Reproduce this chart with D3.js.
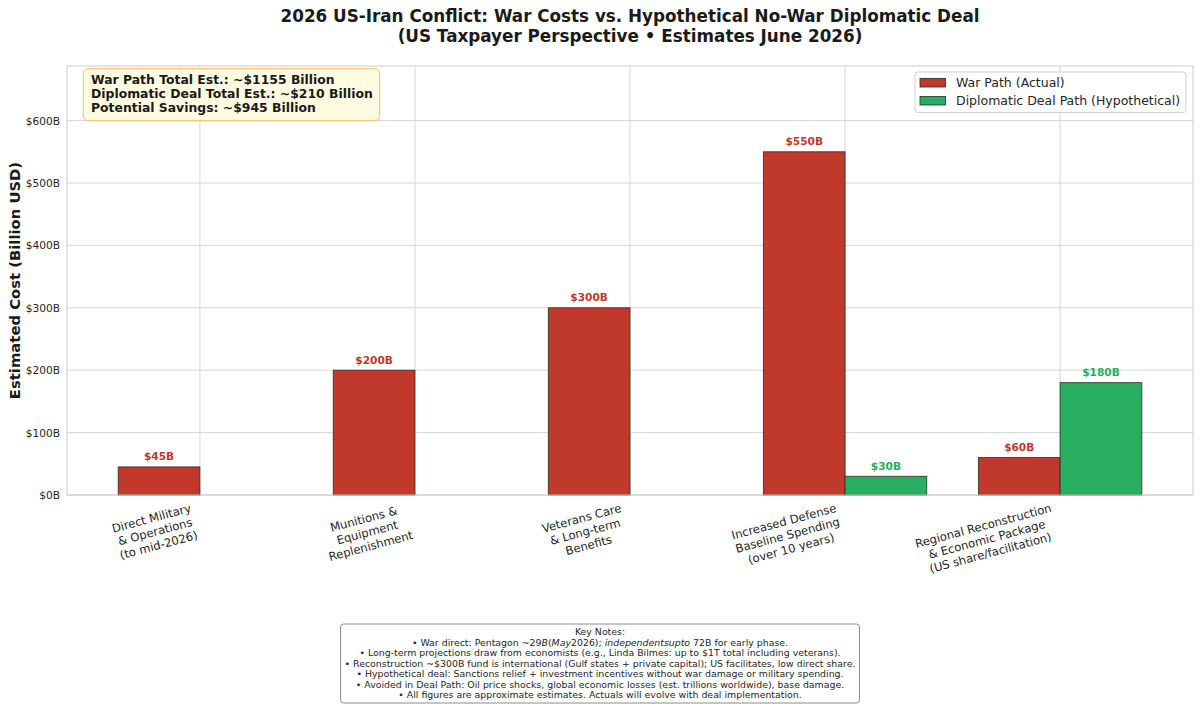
<!DOCTYPE html>
<html>
<head>
<meta charset="utf-8">
<script src="https://cdn.jsdelivr.net/npm/d3@7"></script>
<style>
body { margin: 0; background: #fff; }
svg { font-family: "DejaVu Sans", sans-serif; }
.grid line { stroke: #d6d6d6; stroke-width: 1; }
.frame { fill: none; stroke: #cccccc; stroke-width: 1; }
.tick-x { font-size: 11.6px; fill: #262626; }
.bar { stroke: #2b2b2b; stroke-width: 0.8; }
.value { font-size: 10.6px; font-weight: bold; }
</style>
</head>
<body>
<svg id="chart" width="1200" height="708"></svg>
<script>

// data
var categories = [
    "Direct Military\n& Operations\n(to mid-2026)",
    "Munitions &\nEquipment\nReplenishment",
    "Veterans Care\n& Long-term\nBenefits",
    "Increased Defense\nBaseline Spending\n(over 10 years)",
    "Regional Reconstruction\n& Economic Package\n(US share/facilitation)"
];
var warValues = [45, 200, 300, 550, 60];
var dealValues = [0, 0, 0, 30, 180];
var yTicks = [0, 100, 200, 300, 400, 500, 600];
var seriesNames = ["War Path (Actual)", "Diplomatic Deal Path (Hypothetical)"];
var titleLines = [
    "2026 US-Iran Conflict: War Costs vs. Hypothetical No-War Diplomatic Deal",
    "(US Taxpayer Perspective \u2022 Estimates June 2026)"
];
var summaryLines = [
    "War Path Total Est.: ~$1155 Billion",
    "Diplomatic Deal Total Est.: ~$210 Billion",
    "Potential Savings: ~$945 Billion"
];
// each note line is a list of [text, italic] pieces
var noteLines = [
    [["Key Notes:", false]],
    [["\u2022 War direct: Pentagon ~29", false], ["B", true], ["(", false], ["May", true], ["2026); ", false],
     ["independentsupto", true], [" 72B for early phase.", false]],
    [["\u2022 Long-term projections draw from economists (e.g., Linda Bilmes: up to $1T total including veterans).", false]],
    [["\u2022 Reconstruction ~$300B fund is international (Gulf states + private capital); US facilitates, low direct share.", false]],
    [["\u2022 Hypothetical deal: Sanctions relief + investment incentives without war damage or military spending.", false]],
    [["\u2022 Avoided in Deal Path: Oil price shocks, global economic losses (est. trillions worldwide), base damage.", false]],
    [["\u2022 All figures are approximate estimates. Actuals will evolve with deal implementation.", false]]
];

var warColor = "#c0392b",
    dealColor = "#27ae60",
    barWidth = 0.38;

var svg = d3.select("#chart");

var plotLeft = 67, plotRight = 1193, plotTop = 66, plotBottom = 495;

var x = d3.scaleLinear()
    .domain([-0.618, categories.length - 1 + 0.618])
    .range([plotLeft, plotRight]);

var y = d3.scaleLinear()
    .domain([0, d3.max(warValues) * 1.25])
    .range([plotBottom, plotTop]);

// grid
var grid = svg.append("g").attr("class", "grid");
grid.selectAll(".h").data(yTicks).enter().append("line")
    .attr("x1", plotLeft).attr("x2", plotRight)
    .attr("y1", function(d) { return y(d); })
    .attr("y2", function(d) { return y(d); });
grid.selectAll(".v").data(categories).enter().append("line")
    .attr("y1", plotTop).attr("y2", plotBottom)
    .attr("x1", function(d, i) { return x(i); })
    .attr("x2", function(d, i) { return x(i); });

// y axis labels
var yAxis = d3.axisLeft(y)
    .tickValues(yTicks)
    .tickSize(0)
    .tickPadding(7)
    .tickFormat(function(d) { return "$" + d + "B"; });
var gy = svg.append("g")
    .attr("transform", "translate(" + plotLeft + ",0)")
    .call(yAxis);
gy.select(".domain").remove();
gy.selectAll("text")
    .style("font-family", "DejaVu Sans").style("font-size", "10.6px").attr("fill", "#262626");

// bars + value labels
function drawBars(values, offset, color) {
    var g = svg.append("g");
    values.forEach(function(v, i) {
        if (v <= 0) return;
        g.append("rect")
            .attr("class", "bar")
            .attr("fill", color)
            .attr("x", x(i + offset))
            .attr("y", y(v))
            .attr("width", x(barWidth) - x(0))
            .attr("height", y(0) - y(v));
        g.append("text")
            .attr("class", "value")
            .attr("fill", color)
            .attr("text-anchor", "middle")
            .attr("x", x(i + offset + barWidth / 2))
            .attr("y", y(v) - 6.5)
            .text("$" + v + "B");
    });
}
drawBars(warValues, -barWidth, warColor);
drawBars(dealValues, 0, dealColor);

// frame
svg.append("rect").attr("class", "frame")
    .attr("x", plotLeft).attr("y", plotTop)
    .attr("width", plotRight - plotLeft).attr("height", plotBottom - plotTop);

// x labels, rotated 15 deg, right edge on the tick
categories.forEach(function(lbl, i) {
    var outer = svg.append("g").attr("transform", "translate(" + x(i) + ",501)");
    var inner = outer.append("g");
    var t = inner.append("g").attr("transform", "rotate(-15)")
        .append("text")
        .attr("class", "tick-x")
        .attr("text-anchor", "middle");
    lbl.split("\n").forEach(function(line, j) {
        t.append("tspan").attr("x", 0).attr("y", j * 13.9).text(line);
    });
    var bb = outer.node().getBBox();
    inner.attr("transform", "translate(" + (-(bb.x + bb.width)) + "," + (-bb.y) + ")");
});

// y label
svg.append("text")
    .attr("transform", "translate(20," + ((plotTop + plotBottom) / 2) + ") rotate(-90)")
    .attr("text-anchor", "middle")
    .attr("font-size", "14.8px")
    .attr("font-weight", "bold")
    .attr("fill", "#1a1a1a")
    .text("Estimated Cost (Billion USD)");

// title
svg.append("g").selectAll("text")
    .data(titleLines).enter().append("text")
    .attr("x", (plotLeft + plotRight) / 2)
    .attr("y", function(d, i) { return 22 + i * 20; })
    .attr("text-anchor", "middle")
    .attr("font-size", "16.8px")
    .attr("font-weight", "bold")
    .attr("fill", "#1a1a1a")
    .text(function(d) { return d; });

// summary box
var sbox = svg.append("g");
var srect = sbox.append("rect");
var stext = sbox.append("g");
summaryLines.forEach(function(s, i) {
    stext.append("text")
        .attr("x", 91)
        .attr("y", 84 + i * 13.8)
        .attr("font-size", "12.4px")
        .attr("font-weight", "bold")
        .attr("fill", "#1a1a1a")
        .text(s);
});
var sb = stext.node().getBBox();
srect.attr("x", 83.3).attr("y", 68.7)
    .attr("width", sb.x + sb.width + 7 - 83.3)
    .attr("height", 52)
    .attr("rx", 5)
    .attr("fill", "#fffbe0")
    .attr("stroke", "#f3bd5a")
    .attr("stroke-width", 1);

// legend
var legend = svg.append("g");
legend.append("rect")
    .attr("x", 915).attr("y", 72)
    .attr("width", 271).attr("height", 40.5)
    .attr("rx", 3)
    .attr("fill", "#fff")
    .attr("stroke", "#d0d0d0");
[warColor, dealColor].forEach(function(c, i) {
    var cy = 82.7 + i * 18;
    legend.append("rect")
        .attr("class", "bar")
        .attr("x", 920).attr("y", cy - 4.3)
        .attr("width", 25.5).attr("height", 8.6)
        .attr("fill", c);
    legend.append("text")
        .attr("x", 956).attr("y", cy + 4.5)
        .attr("font-size", "12.5px")
        .attr("fill", "#262626")
        .text(seriesNames[i]);
});

// notes box
var notes = svg.append("g");
var nrect = notes.append("rect");
var ntext = notes.append("g");
noteLines.forEach(function(parts, i) {
    var t = ntext.append("text")
        .attr("x", 600)
        .attr("y", 635 + i * 10.5)
        .attr("text-anchor", "middle")
        .attr("font-size", "9.4px")
        .attr("fill", "#262626");
    parts.forEach(function(p) {
        t.append("tspan")
            .attr("font-style", p[1] ? "italic" : "normal")
            .text(p[0]);
    });
});
var nb = ntext.node().getBBox();
nrect.attr("x", nb.x - 4).attr("y", 624)
    .attr("width", nb.width + 8).attr("height", 79)
    .attr("rx", 3)
    .attr("fill", "#fff")
    .attr("stroke", "#8c8c8c")
    .attr("stroke-width", 1);

</script>
</body>
</html>
